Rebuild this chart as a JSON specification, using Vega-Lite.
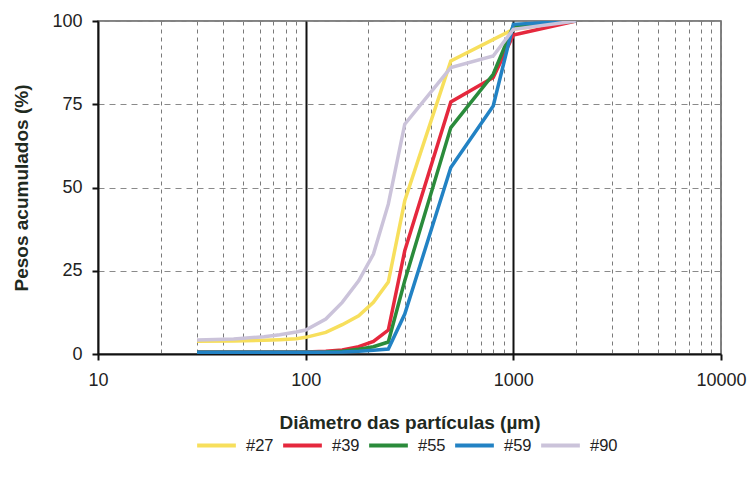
{
  "$schema": "https://vega.github.io/schema/vega-lite/v6.json",
  "autosize": {"type": "none"},
  "padding": {"left": 98, "top": 21, "right": 32, "bottom": 129},
  "width": 623,
  "height": 333,
  "background": "white",
  "config": {
    "font": "Liberation Sans",
    "view": {"stroke": "#5a5a5a", "strokeWidth": 1.5}
  },
  "data": {
    "values": [
      {"amostra": "#27", "d": 30, "p": 3.8},
      {"amostra": "#27", "d": 45, "p": 3.9},
      {"amostra": "#27", "d": 63, "p": 4.1},
      {"amostra": "#27", "d": 75, "p": 4.3},
      {"amostra": "#27", "d": 90, "p": 4.6},
      {"amostra": "#27", "d": 100, "p": 5.0},
      {"amostra": "#27", "d": 125, "p": 6.5},
      {"amostra": "#27", "d": 150, "p": 8.8},
      {"amostra": "#27", "d": 180, "p": 11.5},
      {"amostra": "#27", "d": 212, "p": 15.5},
      {"amostra": "#27", "d": 250, "p": 21.6},
      {"amostra": "#27", "d": 300, "p": 46},
      {"amostra": "#27", "d": 500, "p": 88},
      {"amostra": "#27", "d": 1000, "p": 97.5},
      {"amostra": "#27", "d": 2000, "p": 100},

      {"amostra": "#39", "d": 30, "p": 0.6},
      {"amostra": "#39", "d": 63, "p": 0.6},
      {"amostra": "#39", "d": 100, "p": 0.6},
      {"amostra": "#39", "d": 125, "p": 0.8},
      {"amostra": "#39", "d": 150, "p": 1.2},
      {"amostra": "#39", "d": 180, "p": 2.2},
      {"amostra": "#39", "d": 212, "p": 3.8},
      {"amostra": "#39", "d": 250, "p": 7.2},
      {"amostra": "#39", "d": 300, "p": 31},
      {"amostra": "#39", "d": 500, "p": 75.7},
      {"amostra": "#39", "d": 800, "p": 83},
      {"amostra": "#39", "d": 1000, "p": 95.8},
      {"amostra": "#39", "d": 2000, "p": 100},

      {"amostra": "#55", "d": 30, "p": 0.5},
      {"amostra": "#55", "d": 100, "p": 0.5},
      {"amostra": "#55", "d": 125, "p": 0.6},
      {"amostra": "#55", "d": 150, "p": 0.8},
      {"amostra": "#55", "d": 180, "p": 1.4},
      {"amostra": "#55", "d": 212, "p": 2.2},
      {"amostra": "#55", "d": 250, "p": 3.6},
      {"amostra": "#55", "d": 300, "p": 22},
      {"amostra": "#55", "d": 500, "p": 68},
      {"amostra": "#55", "d": 800, "p": 84},
      {"amostra": "#55", "d": 1000, "p": 98.5},
      {"amostra": "#55", "d": 2000, "p": 100},

      {"amostra": "#59", "d": 30, "p": 0.5},
      {"amostra": "#59", "d": 100, "p": 0.5},
      {"amostra": "#59", "d": 150, "p": 0.6},
      {"amostra": "#59", "d": 180, "p": 0.8},
      {"amostra": "#59", "d": 212, "p": 1.1},
      {"amostra": "#59", "d": 250, "p": 1.5},
      {"amostra": "#59", "d": 300, "p": 12},
      {"amostra": "#59", "d": 500, "p": 56},
      {"amostra": "#59", "d": 800, "p": 74.5},
      {"amostra": "#59", "d": 1000, "p": 99},
      {"amostra": "#59", "d": 2000, "p": 100},

      {"amostra": "#90", "d": 30, "p": 4.2},
      {"amostra": "#90", "d": 45, "p": 4.5},
      {"amostra": "#90", "d": 63, "p": 5.2},
      {"amostra": "#90", "d": 75, "p": 5.8},
      {"amostra": "#90", "d": 90, "p": 6.6},
      {"amostra": "#90", "d": 100, "p": 7.2},
      {"amostra": "#90", "d": 125, "p": 10.5},
      {"amostra": "#90", "d": 150, "p": 15.5},
      {"amostra": "#90", "d": 180, "p": 22},
      {"amostra": "#90", "d": 212, "p": 30},
      {"amostra": "#90", "d": 250, "p": 45},
      {"amostra": "#90", "d": 300, "p": 69},
      {"amostra": "#90", "d": 500, "p": 86},
      {"amostra": "#90", "d": 800, "p": 89.5},
      {"amostra": "#90", "d": 1000, "p": 97.5},
      {"amostra": "#90", "d": 2000, "p": 100}
    ]
  },
  "mark": {"type": "line", "strokeWidth": 3.5, "clip": true},
  "encoding": {
    "x": {
      "field": "d",
      "type": "quantitative",
      "scale": {"type": "log", "domain": [10, 10000], "nice": false},
      "axis": {
        "title": "Diâmetro das partículas (µm)",
        "titleFont": "Liberation Sans",
        "titleFontSize": 19,
        "titleFontWeight": "bold",
        "titleColor": "#1f2a1f",
        "titlePadding": 24,
        "values": [10, 20, 30, 40, 50, 60, 70, 80, 90, 100, 200, 300, 400, 500, 600, 700, 800, 900, 1000, 2000, 3000, 4000, 5000, 6000, 7000, 8000, 9000, 10000],
        "labelExpr": "datum.value == 10 || datum.value == 100 || datum.value == 1000 || datum.value == 10000 ? '' + datum.value : ''",
        "labelFontSize": 18,
        "labelColor": "#222",
        "labelPadding": 11,
        "labelFlush": false,
        "labelOverlap": false,
        "domainColor": "#111",
        "domainWidth": 2,
        "tickSize": 6,
        "tickColor": "#111",
        "tickWidth": 2,
        "tickOpacity": {"condition": {"test": "datum.value == 10 || datum.value == 100 || datum.value == 1000 || datum.value == 10000", "value": 1}, "value": 0},
        "grid": true,
        "gridColor": {"condition": {"test": "datum.value == 100 || datum.value == 1000", "value": "#111"}, "value": "#7a7a7a"},
        "gridWidth": {"condition": {"test": "datum.value == 100 || datum.value == 1000", "value": 2}, "value": 1},
        "gridDash": {"condition": {"test": "datum.value == 100 || datum.value == 1000", "value": []}, "value": [4, 4]}
      }
    },
    "y": {
      "field": "p",
      "type": "quantitative",
      "scale": {"domain": [0, 100], "nice": false},
      "axis": {
        "title": "Pesos acumulados (%)",
        "titleFont": "Liberation Sans",
        "titleFontSize": 19,
        "titleFontWeight": "bold",
        "titleColor": "#1f2a1f",
        "titlePadding": 20,
        "values": [0, 25, 50, 75, 100],
        "labelFontSize": 18,
        "labelColor": "#222",
        "labelPadding": 10,
        "labelFlush": false,
        "domainColor": "#111",
        "domainWidth": 2,
        "tickSize": 6,
        "tickColor": "#111",
        "tickWidth": 2,
        "grid": true,
        "gridColor": "#8a8a8a",
        "gridWidth": 1,
        "gridDash": [6, 5]
      }
    },
    "color": {
      "field": "amostra",
      "type": "nominal",
      "scale": {
        "domain": ["#27", "#39", "#55", "#59", "#90"],
        "range": ["#f7df5c", "#e5283d", "#2a8b3b", "#2282c4", "#cbc3da"]
      },
      "legend": {
        "title": null,
        "orient": "none",
        "direction": "horizontal",
        "columns": 5,
        "legendX": 97,
        "legendY": 403,
        "symbolType": "stroke",
        "symbolSize": 1500,
        "symbolStrokeWidth": 4,
        "labelFontSize": 16.5,
        "labelColor": "#222",
        "labelOffset": 8,
        "columnPadding": 1
      }
    }
  }
}
